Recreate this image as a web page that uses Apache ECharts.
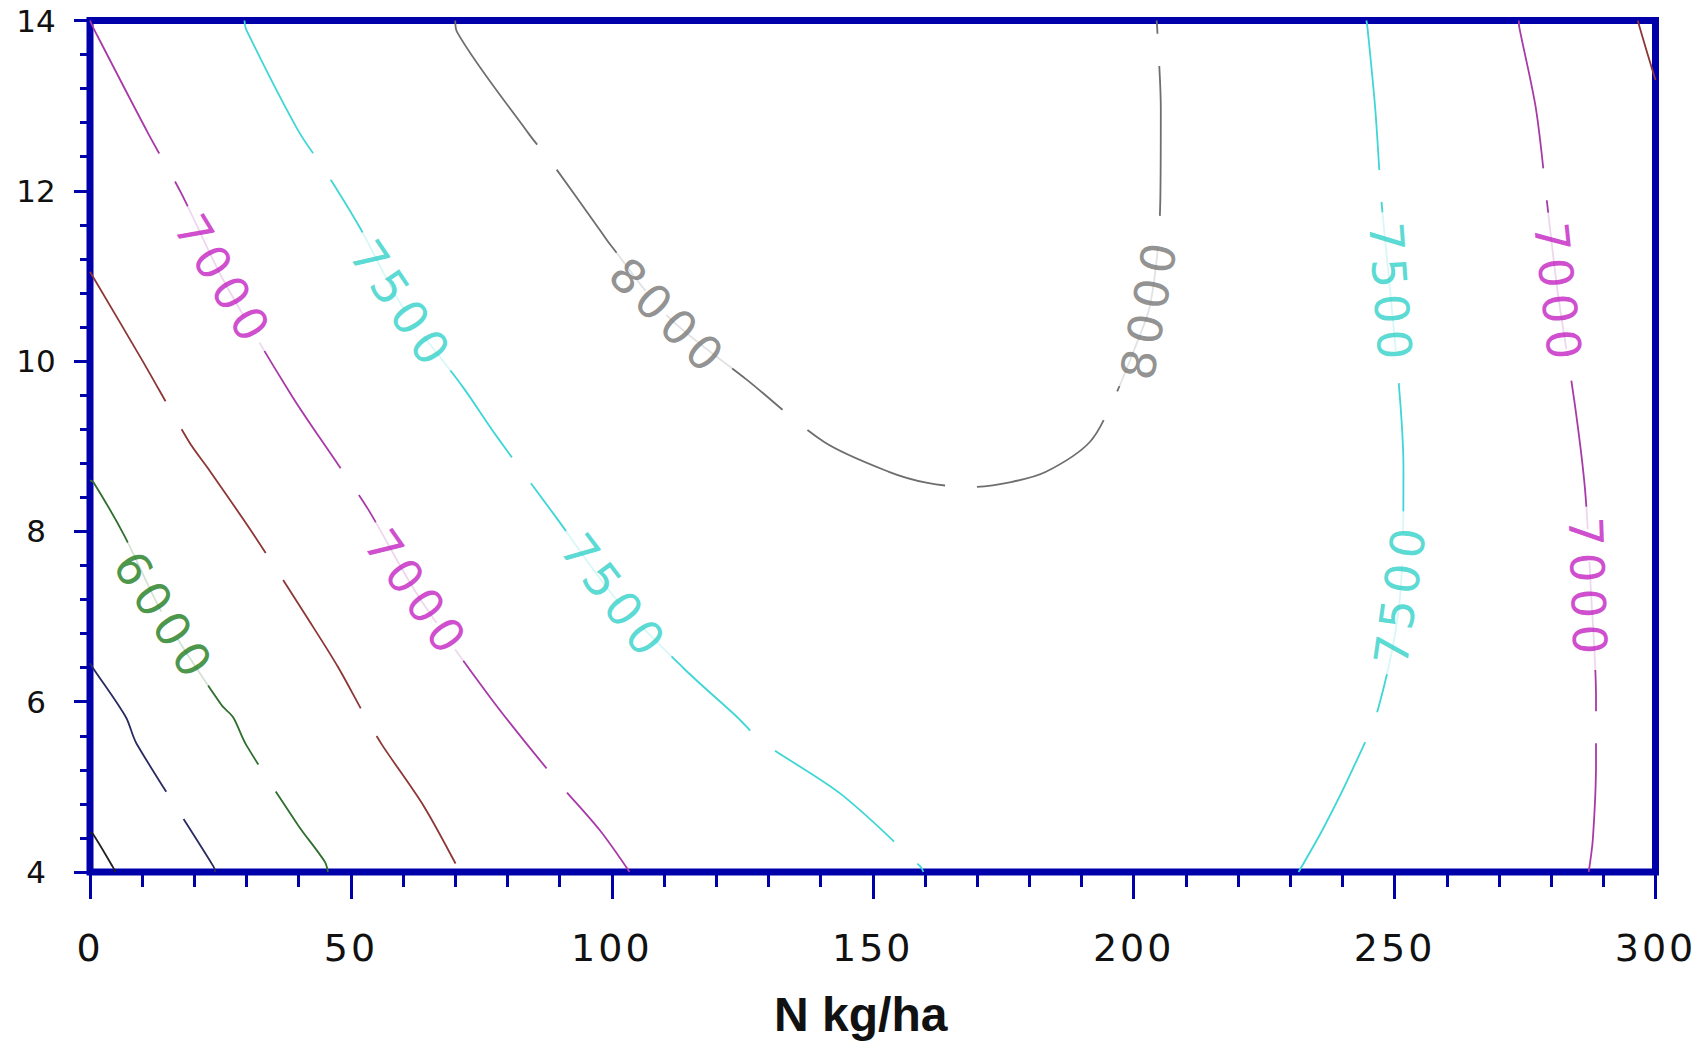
<!DOCTYPE html>
<html>
<head>
<meta charset="utf-8">
<script src="https://cdn.jsdelivr.net/npm/echarts@6/dist/echarts.min.js"></script>
<style>
html,body{margin:0;padding:0;background:#fff;}
#chart{width:1708px;height:1044px;}
#chart text[style*="47px"]{letter-spacing:6px;}
#chart text[style*="38px"]{letter-spacing:3px;}
</style>
</head>
<body>
<div id="chart"></div>
<script>
// ---- data (x = N kg/ha) ----
const xTicks = [0, 50, 100, 150, 200, 250, 300];
const yTicks = [4, 6, 8, 10, 12, 14];
const xTitle = 'N kg/ha';

const c8000 = [[70.0,14.0],[70.3,13.87],[84.2,12.66],[88.1,12.36],[97.7,11.54],[99.8,11.36],[110.8,10.52],[125.9,9.78],[140.7,9.05],[153.1,8.70],[160.5,8.57],[168.6,8.52],[176.5,8.58],[183.2,8.70],[191.6,9.05],[196.2,9.56],[200.2,10.15],[203.0,10.62],[204.6,11.30],[205.1,11.87],[205.2,12.96],[204.5,13.92],[204.4,14.0]];
const c7500a = [[29.6,14.0],[29.96,13.89],[39.87,12.71],[45.0,12.24],[51.6,11.58],[59.67,10.66],[71.4,9.70],[78.0,9.11],[89.5,8.15],[100.5,7.23],[113.8,6.39],[124.0,5.82],[128.8,5.53],[143.8,4.92],[159.2,4.06],[159.7,4.0]];
const c7500b = [[244.6,14.0],[244.8,13.92],[246.3,12.96],[247.5,11.87],[249.2,10.79],[251.1,9.51],[251.7,8.74],[251.1,7.27],[246.9,5.93],[241.6,5.16],[236.4,4.52],[231.6,4.0]];
const c7000a = [[0,14.0],[1.0,13.87],[11.27,12.66],[17.5,11.97],[25.57,10.95],[38.6,9.60],[47.6,8.78],[53.4,8.25],[62.6,7.27],[76.7,6.05],[89.2,5.09],[97.7,4.49],[103.4,4.0]];
const c7000b = [[273.8,14.0],[273.9,13.92],[277.1,12.96],[279.2,11.87],[281.3,10.79],[284.5,9.51],[286.5,8.49],[287.6,7.33],[288.6,6.05],[288.6,5.28],[288.0,4.39],[287.2,4.0]];
const c6500a = [[0,11.05],[9.9,10.02],[19.0,9.05],[22.5,8.75],[31.5,7.95],[42.0,6.95],[47.5,6.41],[52.8,5.82],[56.0,5.49],[64.0,4.77],[70.9,4.0]];
const c6500b = [[296.6,14.0],[297.3,13.85],[299.0,13.5],[300,13.3]];
const c6000 = [[0,8.60],[0.63,8.58],[6.5,7.96],[14.2,7.0],[25.2,5.96],[27.4,5.82],[29.96,5.49],[39.87,4.55],[45.0,4.12],[45.6,4.0]];
const c5500 = [[0,6.45],[0.63,6.39],[6.86,5.82],[8.9,5.51],[23.7,4.06],[24.0,4.0]];
const c5000 = [[0,4.46],[0.54,4.45],[4.37,4.06],[4.9,4.0]];

const contourLevels = [8000, 7500, 7500, 7000, 7000, 6500, 6500, 6000, 5500, 5000];
const contourLines  = [c8000, c7500a, c7500b, c7000a, c7000b, c6500a, c6500b, c6000, c5500, c5000];

const labelValues = [7000, 7000, 7500, 7500, 8000, 8000, 7500, 7500, 7000, 7000, 6000];
const labelPositions = [[25.57,10.95],[62.6,7.27],[59.67,10.66],[100.5,7.23],[110.8,10.52],[203.0,10.62],[249.2,10.79],[251.1,7.27],[281.3,10.79],[287.0,7.33],[14.2,7.0]];

// ---- styles ----
const labelAngles = [-59, -55, -56, -53, -45, 80, -86, 82, -84, -88, -57];
const lineColors = {8000:'#6e6e6e', 7500:'#3fd6d6', 7000:'#a83aa8', 6500:'#8e3636', 6000:'#2e6e2e', 5500:'#2a2a62', 5000:'#202020'};
const textColors = {8000:'#767676', 7500:'#2fd0c8', 7000:'#c21ec2', 6000:'#1b7a1b'};
const frameBlue = '#0000aa';

const series = contourLines.map((pts, i) => ({
  type: 'line',
  name: String(contourLevels[i]),
  data: pts,
  showSymbol: false,
  symbol: 'none',
  smooth: 0.3,
  z: 2,
  lineStyle: { color: lineColors[contourLevels[i]], width: 1.8, type: [150, 32] },
  silent: true
}));

series.push({
  type: 'scatter',
  symbolSize: 0,
  z: 5,
  silent: true,
  data: labelPositions.map((p, i) => ({
    value: p,
    label: {
      show: true,
      position: 'inside',
      formatter: String(labelValues[i]),
      rotate: labelAngles[i],
      color: textColors[labelValues[i]],
      fontSize: 47,
      fontFamily: 'DejaVu Sans',
      backgroundColor: '#ffffff',
      padding: [0, 22]
    }
  }))
});

const chart = echarts.init(document.getElementById('chart'), null, { renderer: 'svg' });
chart.setOption({
  animation: false,
  backgroundColor: '#ffffff',
  grid: {
    left: 90, right: 52.5, top: 20.5, bottom: 172,
    show: true, borderColor: frameBlue, borderWidth: 7, backgroundColor: 'transparent',
    outerBoundsMode: 'none', containLabel: false
  },
  xAxis: {
    type: 'value',
    min: xTicks[0], max: xTicks[xTicks.length - 1], interval: xTicks[1] - xTicks[0],
    name: xTitle, nameLocation: 'middle', nameGap: 118, nameMoveOverlap: false,
    nameTextStyle: { fontSize: 48, fontFamily: 'Liberation Sans', fontWeight: 'bold', color: '#111', padding: [0, 24, 0, 0] },
    axisLine: { show: false },
    axisTick: { show: true, length: 27, lineStyle: { color: frameBlue, width: 3 } },
    minorTick: { show: true, splitNumber: 5, length: 15, lineStyle: { color: frameBlue, width: 3 } },
    axisLabel: { fontSize: 38, fontFamily: 'DejaVu Sans', color: '#111', margin: 57, formatter: v => String(v) },
    splitLine: { show: false }
  },
  yAxis: {
    type: 'value',
    min: yTicks[0], max: yTicks[yTicks.length - 1], interval: yTicks[1] - yTicks[0],
    axisLine: { show: false },
    axisTick: { show: true, length: 16, lineStyle: { color: frameBlue, width: 3 } },
    minorTick: { show: true, splitNumber: 5, length: 10, lineStyle: { color: frameBlue, width: 3 } },
    axisLabel: { fontSize: 31, fontFamily: 'DejaVu Sans', color: '#111', margin: 54, align: 'center', formatter: v => String(v) },
    splitLine: { show: false }
  },
  series: series
});
</script>
</body>
</html>
